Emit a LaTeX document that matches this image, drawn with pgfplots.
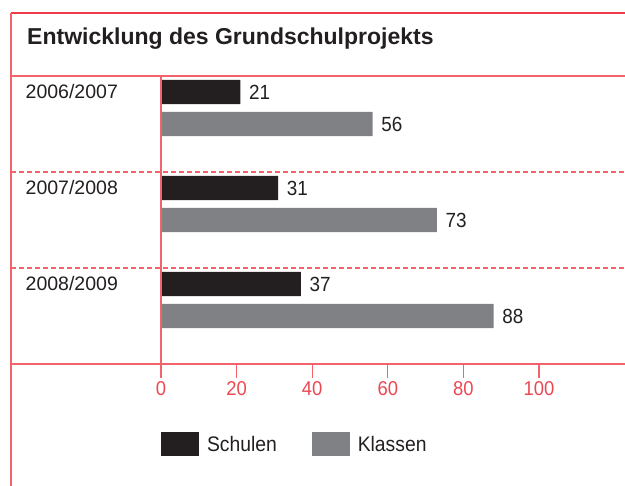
\documentclass[border=0pt]{standalone}
\usepackage{fontspec}
\setmainfont{Liberation Sans}
\newfontfamily\cond{Liberation Sans}[FakeStretch=0.92]
\usepackage{pgfplots}
\pgfplotsset{compat=1.18}
\definecolor{framered}{RGB}{242,100,108}
\definecolor{topred}{RGB}{238,60,70}
\definecolor{tickred}{RGB}{236,72,82}
\definecolor{schwarz}{RGB}{35,31,32}
\definecolor{grau}{RGB}{128,129,132}
\begin{document}
\begin{tikzpicture}[x=1pt,y=1pt]
\useasboundingbox (0,0) rectangle (625,-486);
\begin{axis}[
  at={(161pt,-364pt)}, anchor=south west,
  scale only axis, width=464pt, height=289pt,
  xmin=0, xmax=122.75, ymin=-364, ymax=-75,
  axis line style={draw=none},
  ytick=\empty,
  xtick={0,20,40,60,80,100},
  tick pos=left,
  tick align=outside,
  major tick length=14pt,
  tick style={framered, line width=1.3pt},
  xticklabel style={font=\cond\fontsize{20}{20}\selectfont, text=tickred, inner sep=0pt, anchor=base, yshift=-18pt},
  /pgf/number format/assume math mode=true,
  clip=false,
  nodes near coords,
  point meta=x,
  nodes near coords style={font=\cond\fontsize{20.5}{20.5}\selectfont, text=schwarz, anchor=west, inner sep=0pt, xshift=8.5pt},
  legend style={at={(axis description cs:0,-0.2353)}, anchor=north west, draw=none, fill=none, inner sep=0pt, outer sep=0pt,
    font=\cond\fontsize{21}{21}\selectfont, text=schwarz,
    cells={anchor=base west},
    /tikz/every odd column/.append style={column sep=6pt},
    /tikz/every even column/.append style={column sep=33pt}},
  legend columns=2,
]
\addplot[xbar, bar shift=0pt, bar width=24.4, fill=schwarz, draw=none,
  legend image code/.code={\fill[schwarz] (0pt,-5pt) rectangle (38pt,19.4pt);}]
  coordinates {(21,-92) (31,-188) (37,-284)};
\addlegendentry{Schulen}
\addplot[xbar, bar shift=0pt, bar width=24.4, fill=grau, draw=none,
  legend image code/.code={\fill[grau] (0pt,-5pt) rectangle (38pt,19.4pt);}]
  coordinates {(56,-124) (73,-220) (88,-316)};
\addlegendentry{Klassen}
\end{axis}
% frame
\draw[topred, line width=1.4pt] (11,-13) -- (625,-13);
\draw[framered, line width=1.3pt] (11,-13) -- (11,-486);
\draw[framered, line width=1.3pt] (11,-76) -- (625,-76);
\draw[framered, line width=1.3pt] (11,-364) -- (625,-364);
\draw[framered, line width=1.3pt] (161,-76) -- (161,-378);
\draw[framered, line width=1.3pt, dash pattern=on 5pt off 3pt] (11,-172) -- (625,-172);
\draw[framered, line width=1.3pt, dash pattern=on 5pt off 3pt] (11,-268) -- (625,-268);
% title
\node[anchor=base west, inner sep=0pt, text=schwarz, font=\bfseries\fontsize{23}{23}\selectfont] at (27,-44.3) {Entwicklung des Grundschulprojekts};
% categories
\node[anchor=base west, inner sep=0pt, text=schwarz, font=\fontsize{19.5}{19.5}\selectfont] at (25.5,-98.3) {2006/2007};
\node[anchor=base west, inner sep=0pt, text=schwarz, font=\fontsize{19.5}{19.5}\selectfont] at (25.5,-194.3) {2007/2008};
\node[anchor=base west, inner sep=0pt, text=schwarz, font=\fontsize{19.5}{19.5}\selectfont] at (25.5,-290.3) {2008/2009};
\end{tikzpicture}
\end{document}
